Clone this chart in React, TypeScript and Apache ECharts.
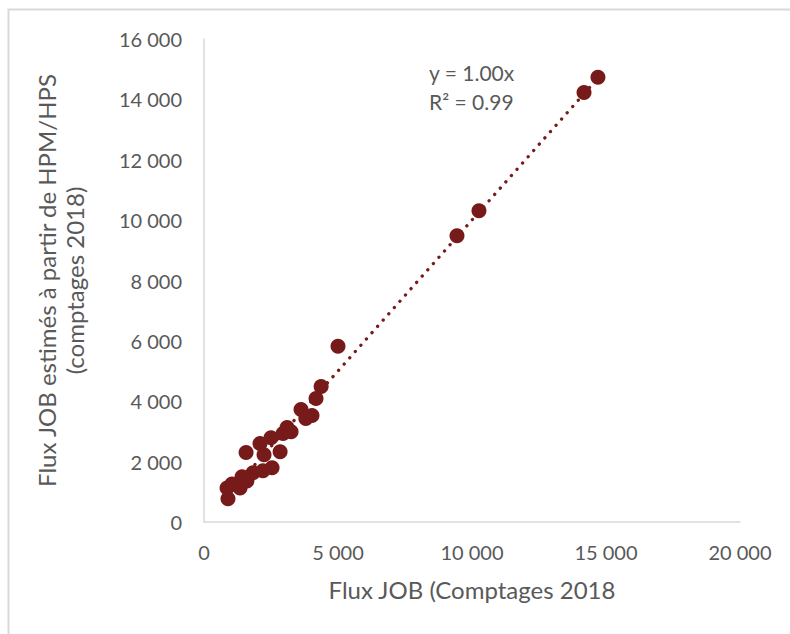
import React, { useEffect, useRef } from "react";
import * as echarts from "echarts";

const xValues = [895, 860, 1045, 1345, 1420, 1600, 1830, 2200, 2540, 1570, 2240, 2840, 2090, 2500, 2950, 3100, 3250, 3620, 4030, 3800, 4180, 4370, 5000, 9440, 10260, 14180, 14700];
const yValues = [770, 1130, 1260, 1130, 1500, 1360, 1630, 1700, 1800, 2300, 2230, 2330, 2600, 2790, 2930, 3130, 2990, 3730, 3530, 3430, 4090, 4490, 5820, 9480, 10310, 14230, 14730];

const xTitle = "Flux JOB (Comptages 2018";
const yTitle = "Flux JOB estimés à partir de HPM/HPS\n(comptages 2018)";
const eqText = "y = 1.00x\nR² = 0.99";

const RED = "#771a1a";
const GREY = "#595959";
const FONT = "Lato";

function fmt(v: number) {
  return String(v).replace(/\B(?=(\d{3})+(?!\d))/g, " ");
}

export default function App() {
  const ref = useRef<HTMLDivElement>(null);
  useEffect(() => {
    if (!ref.current) return;
    const chart = echarts.init(ref.current, undefined, { renderer: "svg" });
    const pts = xValues.map((x, i) => [x, yValues[i]]);
    // least squares through origin (trendline with intercept 0)
    let sxy = 0, sxx = 0;
    pts.forEach(([x, y]) => { sxy += x * y; sxx += x * x; });
    const slope = sxy / sxx;
    const xmin = Math.min(...xValues);
    const xmax = Math.max(...xValues);
    chart.setOption({
      animation: false,
      grid: { left: 204, right: 50, top: 39, bottom: 112 },
      xAxis: {
        type: "value",
        min: 0,
        max: 20000,
        interval: 5000,
        name: xTitle,
        nameLocation: "middle",
        nameGap: 55,
        nameTextStyle: { fontFamily: FONT, fontSize: 24, color: GREY },
        axisLine: { show: true, lineStyle: { color: "#d9d9d9", width: 1.5 } },
        axisTick: { show: false },
        splitLine: { show: false },
        axisLabel: { formatter: fmt, fontFamily: FONT, fontSize: 20, color: GREY, margin: 20 },
      },
      yAxis: {
        type: "value",
        min: 0,
        max: 16000,
        interval: 2000,
        name: yTitle,
        nameLocation: "middle",
        nameRotate: 90,
        nameGap: 116,
        nameTextStyle: { fontFamily: FONT, fontSize: 24, color: GREY, lineHeight: 28 },
        axisLine: { show: true, lineStyle: { color: "#d9d9d9", width: 1.5 } },
        axisTick: { show: false },
        splitLine: { show: false },
        axisLabel: { formatter: fmt, fontFamily: FONT, fontSize: 20, color: GREY, margin: 22 },
      },
      graphic: [
        {
          type: "rect",
          shape: { x: 8.5, y: 9.5, width: 900, height: 800 },
          style: { fill: "none", stroke: "#d9d9d9", lineWidth: 2 },
          silent: true,
          z: -10,
        },
        {
          type: "text",
          x: 429,
          y: 58,
          style: { text: eqText, fontFamily: FONT, fontSize: 21, fill: GREY, lineHeight: 29 },
        },
      ],
      series: [
        {
          type: "line",
          data: [[xmin, slope * xmin], [xmax, slope * xmax]],
          showSymbol: false,
          symbol: "none",
          lineStyle: { color: RED, width: 3.3, type: [0.1, 8.3], cap: "round" },
          z: 1,
          silent: true,
        },
        {
          type: "scatter",
          data: pts,
          symbol: "circle",
          symbolSize: 15,
          itemStyle: { color: RED, opacity: 1 },
          z: 2,
        },
      ],
    });
    return () => chart.dispose();
  }, []);
  return (
    <div
      ref={ref}
      style={{ position: "fixed", left: 0, top: 0, width: 790, height: 634, background: "#fff" }}
    />
  );
}
